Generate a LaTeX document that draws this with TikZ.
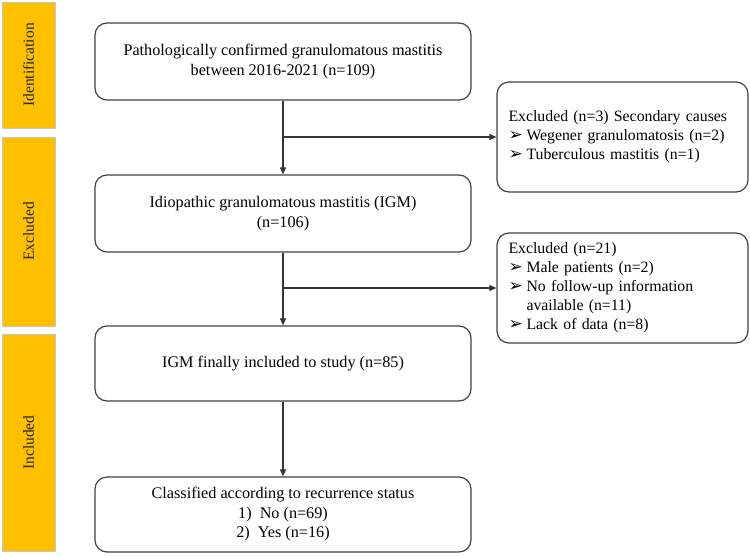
\documentclass[tikz,border=0pt]{standalone}
\usepackage{fontspec}
\setmainfont{Liberation Serif}
\newfontfamily\symfont{DejaVu Sans}
\usetikzlibrary{arrows.meta}
\newcommand{\arr}{\makebox[18pt][l]{\symfont\fontsize{17}{17}\selectfont ➢}}
\begin{document}
\begin{tikzpicture}[x=1pt, y=-1pt,
  stage/.style={fill={rgb,255:red,255;green,192;blue,0}, draw=gray!45, rotate=90, inner sep=0pt, text=black!85, font=\fontsize{15.5}{18}\selectfont},
  mainbox/.style={draw=black!75, line width=1.2pt, rounded corners=12pt, minimum width=376pt, align=center, font=\fontsize{16.2}{19.5}\selectfont},
  sidebox/.style={draw=black!75, line width=1.2pt, rounded corners=12pt, minimum width=251pt, minimum height=110pt, align=left, text width=228pt, font=\fontsize{15.8}{19}\selectfont},
  flow/.style={draw=black!80, line width=1.1pt, -{Triangle[length=7pt,width=6pt]}}]
\useasboundingbox (0,0) rectangle (750,555);
% stages on the left
\node[stage, minimum width=126pt, minimum height=53pt] (sid) at (28.5,65) {Identification};
\node[stage, minimum width=189pt, minimum height=53pt] (sex) at (28.5,231.5) {Excluded};
\node[stage, minimum width=217pt, minimum height=53pt] (sin) at (28.5,442.5) {Included};
% main flow
\node[mainbox, minimum height=77pt] (confirmed) at (283,61.5) {Pathologically confirmed granulomatous mastitis\\between 2016-2021 (n=109)};
\node[mainbox, minimum height=77pt] (igm) at (283,213.5) {Idiopathic granulomatous mastitis (IGM)\\(n=106)};
\node[mainbox, minimum height=75pt] (study) at (283,363.5) {IGM finally included to study (n=85)};
\node[mainbox, minimum height=75pt] (classified) at (283,514.5) {Classified according to recurrence status\\1)\enspace No (n=69)\\2)\enspace Yes (n=16)};
% exclusions
\node[sidebox] (excl1) at (622.5,137) {Excluded (n=3) Secondary causes\\
  \arr Wegener granulomatosis (n=2)\\
  \arr Tuberculous mastitis (n=1)};
\node[sidebox] (excl2) at (622.5,288) {Excluded (n=21)\\
  \arr Male patients (n=2)\\
  \arr No follow-up information\\
  \hphantom{\arr}available (n=11)\\
  \arr Lack of data (n=8)};
% arrows
\draw[flow] (confirmed) -- (igm);
\draw[flow] (igm) -- (study);
\draw[flow] (study) -- (classified);
\draw[flow] (confirmed.south |- excl1) -- (excl1);
\draw[flow] (igm.south |- excl2) -- (excl2);
\end{tikzpicture}
\end{document}
